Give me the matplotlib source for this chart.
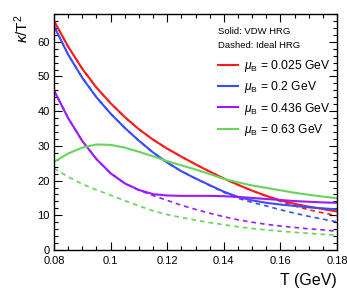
import matplotlib
matplotlib.use("Agg")
import matplotlib.pyplot as plt
from matplotlib.ticker import MultipleLocator

plt.rcParams['font.family'] = ['Liberation Sans', 'DejaVu Sans']
plt.rcParams['mathtext.fontset'] = 'custom'
plt.rcParams['mathtext.rm'] = 'Liberation Sans'
plt.rcParams['mathtext.it'] = 'Liberation Sans:italic'

T = [0.080, 0.085, 0.090, 0.095, 0.100, 0.105, 0.110, 0.115, 0.120, 0.125,
     0.130, 0.135, 0.140, 0.145, 0.150, 0.155, 0.160, 0.165, 0.170, 0.175, 0.180]

red_vdw   = [66.0, 58.6, 52.2, 46.8, 42.3, 38.3, 34.8, 31.8, 29.2, 26.9,
             24.7, 22.6, 20.6, 18.8, 17.1, 15.6, 14.3, 13.3, 12.5, 11.8, 11.1]
red_id    = [66.0, 58.6, 52.2, 46.8, 42.3, 38.3, 34.8, 31.8, 29.2, 26.9,
             24.7, 22.6, 20.6, 18.8, 17.1, 15.5, 14.0, 12.7, 11.6, 10.7, 9.9]
blue_vdw  = [64.5, 56.3, 49.6, 44.0, 39.3, 35.2, 31.5, 28.1, 25.2, 22.7,
             20.6, 18.7, 16.8, 15.3, 14.3, 13.6, 13.1, 12.7, 12.3, 12.0, 11.7]
blue_id   = [64.5, 56.3, 49.6, 44.0, 39.3, 35.2, 31.5, 28.1, 25.2, 22.7,
             20.6, 18.6, 16.6, 14.9, 13.7, 12.7, 11.6, 10.6, 9.7, 8.9, 8.1]
purp_vdw  = [46.0, 38.0, 31.4, 26.2, 22.1, 19.2, 17.3, 16.1, 15.7, 15.6,
             15.6, 15.6, 15.5, 15.3, 15.0, 14.7, 14.4, 14.1, 13.9, 13.7, 13.6]
purp_id   = [46.0, 38.0, 31.4, 26.2, 22.1, 19.2, 17.2, 15.7, 14.3, 12.9,
             11.7, 10.6, 9.6, 8.7, 8.0, 7.4, 6.9, 6.5, 6.1, 5.8, 5.4]
green_vdw = [25.4, 27.8, 29.5, 30.4, 30.3, 29.5, 28.3, 27.0, 25.6, 24.4,
             23.2, 21.9, 20.5, 19.5, 18.6, 17.9, 17.2, 16.5, 15.9, 15.4, 14.9]
green_id  = [23.5, 21.1, 19.0, 17.3, 15.8, 14.2, 12.7, 11.3, 10.2, 9.4,
             8.6, 7.9, 7.3, 6.7, 6.2, 5.8, 5.4, 5.1, 4.8, 4.5, 4.3]

labels = [r'$\mu_{\rm B}$ = 0.025 GeV', r'$\mu_{\rm B}$ = 0.2 GeV',
          r'$\mu_{\rm B}$ = 0.436 GeV', r'$\mu_{\rm B}$ = 0.63 GeV']
colors = ['#ff1a1a', '#3b4cff', '#9a1aff', '#66d65a']

fig = plt.figure(figsize=(3.47, 3.01), dpi=100)
ax = fig.add_axes([54/347, 51/301, 283/347, 236/301])

solids = [red_vdw, blue_vdw, purp_vdw, green_vdw]
dashes = [red_id, blue_id, purp_id, green_id]
handles = []
for s, d, c, lab in zip(solids, dashes, colors, labels):
    h, = ax.plot(T, s, color=c, lw=1.5, label=lab)
    ax.plot(T, d, color=c, lw=1.2, ls=(0, (2.8, 2.4)))
    handles.append(h)

ax.set_xlim(0.08, 0.18)
ax.set_ylim(0, 68)
ax.xaxis.set_minor_locator(MultipleLocator(0.005))
ax.yaxis.set_major_locator(MultipleLocator(10))
ax.yaxis.set_minor_locator(MultipleLocator(2))
ax.set_xticks([0.08, 0.1, 0.12, 0.14, 0.16, 0.18])
ax.set_xticklabels(['0.08', '0.1', '0.12', '0.14', '0.16', '0.18'])
ax.tick_params(which='both', direction='in', top=True, right=True,
               labelsize=8, width=0.8)
ax.tick_params(axis='x', pad=4)
ax.tick_params(axis='y', pad=3)
ax.tick_params(which='major', length=6)
ax.tick_params(which='minor', length=3)
for sp in ax.spines.values():
    sp.set_linewidth(1.0)

ax.set_xlabel('T (GeV)', fontsize=11.5, loc='right', labelpad=5)
ax.set_ylabel(r'$\kappa$/T$^2$', fontsize=11, loc='top', labelpad=5)

fig.text(218/347, 1 - 31/301, 'Solid: VDW HRG', fontsize=6.8, va='center', ha='left')
fig.text(218/347, 1 - 46/301, 'Dashed: Ideal HRG', fontsize=6.8, va='center', ha='left')

ax.legend(handles=handles, loc='upper left',
          bbox_to_anchor=((213 - 54)/283, (250 - 53)/236),
          frameon=False, fontsize=8.7, handlelength=1.7,
          handletextpad=0.45, labelspacing=0.45, borderaxespad=0)

fig.savefig('out.png', dpi=100)
